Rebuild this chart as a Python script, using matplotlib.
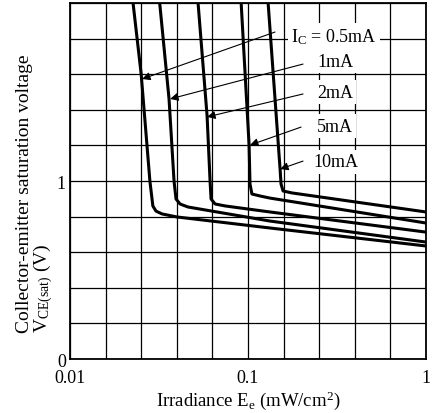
import numpy as np
import matplotlib.pyplot as plt

plt.rcParams['font.family'] = ['Liberation Serif', 'DejaVu Serif']
plt.rcParams['mathtext.fontset'] = 'custom'
plt.rcParams['mathtext.rm'] = 'Liberation Serif'
plt.rcParams['mathtext.it'] = 'Liberation Serif:italic'

# curves: irradiance (mW/cm2) vs Vce(sat) (V)
x_05 = [0.0226, 0.0251, 0.0281, 0.0292, 0.0304, 0.0329, 0.0399, 0.133, 1.0]
y_05 = [2.0, 1.601, 1.0, 0.860, 0.831, 0.815, 0.798, 0.736, 0.635]

x_1 = [0.0319, 0.0360, 0.0384, 0.0394, 0.0415, 0.0460, 0.133, 1.0]
y_1 = [2.0, 1.461, 1.0, 0.899, 0.871, 0.854, 0.775, 0.657]

x_2 = [0.0524, 0.0589, 0.0612, 0.0620, 0.0653, 0.0743, 0.133, 1.0]
y_2 = [2.0, 1.365, 1.0, 0.899, 0.871, 0.860, 0.826, 0.713]

x_5 = [0.0915, 0.1014, 0.1026, 0.1052, 0.1167, 0.133, 1.0]
y_5 = [2.0, 1.202, 0.983, 0.927, 0.916, 0.904, 0.764]

x_10 = [0.1297, 0.1514, 0.1533, 0.1574, 0.1766, 1.0]
y_10 = [2.0, 1.067, 0.983, 0.944, 0.933, 0.826]

labels = ['I$_{\\rm C}$ = 0.5mA', '1mA', '2mA', '5mA', '10mA']
label_x = [0.1745, 0.2442, 0.2442, 0.2442, 0.2317]
label_y = [1.815, 1.674, 1.5, 1.309, 1.107]
arrow_start = [(0.1418, 1.837), (0.2037, 1.657), (0.2037, 1.489), (0.1986, 1.303), (0.2037, 1.112)]
arrow_tip = [(0.0254, 1.573), (0.0365, 1.461), (0.0589, 1.360), (0.1026, 1.202), (0.1514, 1.067)]

fig = plt.figure(figsize=(4.36, 4.14), dpi=100)
ax = fig.add_axes([0.1606, 0.1304, 0.8165, 0.8599])

ax.set_xscale('log')
ax.set_xlim(0.01, 1)
ax.set_ylim(0, 2)

# grid: 5 divisions per decade, 0.2 V steps
ax.set_xticks([0.01, 0.1, 1])
ax.set_xticklabels(['0.01', '0.1', '1'])
ax.set_xticks(10 ** np.arange(-2, 0.01, 0.2), minor=True)
ax.set_xticklabels([], minor=True)
ax.set_yticks(np.arange(0, 2.01, 0.2), minor=True)
ax.set_yticks([0, 1])
ax.set_yticklabels(['0', '1'])
ax.grid(True, which='both', color='black', lw=0.9)
ax.tick_params(which='both', length=0, labelsize=13)
ax.tick_params(axis='x', pad=7)
ax.tick_params(axis='y', pad=3)
for s in ax.spines.values():
    s.set_linewidth(1.3)

for xs, ys in [(x_05, y_05), (x_1, y_1), (x_2, y_2), (x_5, y_5), (x_10, y_10)]:
    ax.plot(xs, ys, color='black', lw=2.2, solid_joinstyle='round')

for i in range(len(labels)):
    ax.annotate('', xy=arrow_tip[i], xytext=arrow_start[i],
                arrowprops=dict(arrowstyle='-|>', color='black', lw=0.8,
                                mutation_scale=12, shrinkA=0, shrinkB=0))
    ax.text(label_x[i], label_y[i], labels[i], fontsize=13, ha='left', va='center',
            bbox=dict(fc='white', ec='none', pad=2.5))

ax.set_xlabel('Irradiance E$_{\\rm e}$ (mW/cm$^{2}$)', fontsize=13.5, labelpad=2)

# y label: two lines, bottom-aligned like the reference
fig.text(0.057, 0.1957, 'Collector-emitter saturation voltage', rotation=90,
         fontsize=14, ha='center', va='bottom')
fig.text(0.10, 0.1957, 'V$_{\\rm CE(sat)}$ (V)', rotation=90,
         fontsize=14, ha='center', va='bottom')

fig.savefig('out.png', dpi=100)
